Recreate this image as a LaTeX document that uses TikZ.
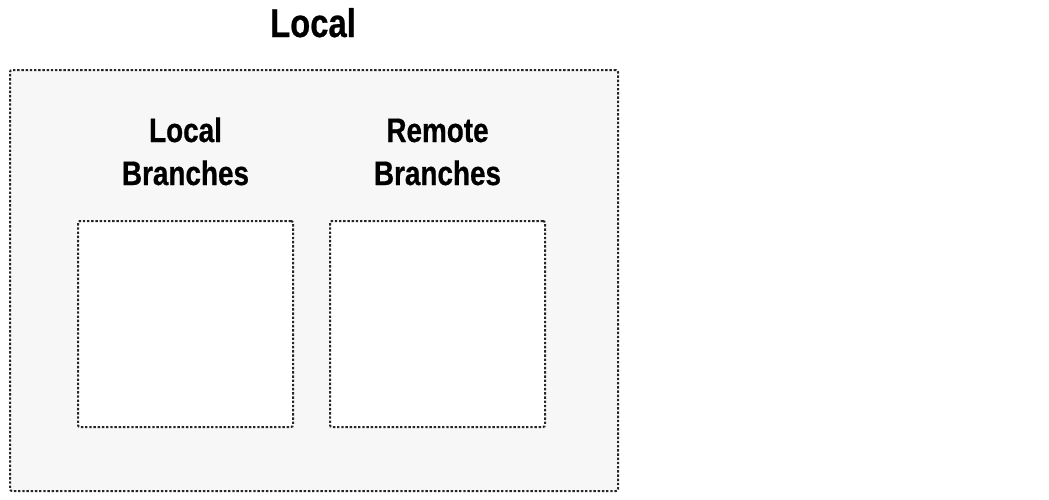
\documentclass[tikz,border=0pt]{standalone}
\usepackage{fontspec}
\setmainfont{Liberation Sans}[FakeStretch=0.82, BoldFeatures={FakeBold=0.6}]
\begin{document}
\begin{tikzpicture}[x=1pt, y=-1pt,
    box/.style={draw=black!85, line width=2pt, dash pattern=on 2.4pt off 1.8pt, rounded corners=2pt, inner sep=0pt},
    lbl/.style={font=\bfseries\fontsize{34}{43}\selectfont, align=center, inner sep=0pt}]
      \useasboundingbox (0,0) rectangle (1049,499);
      %
      \node[box, fill=black!3, minimum width=608pt, minimum height=421pt] (local) at (314,280.5) {}; % outer
      %
      \node[box, fill=white, minimum width=215pt, minimum height=206pt] (lbox) at (185.5,324) {};  % local branches
      \node[box, fill=white, minimum width=215pt, minimum height=206pt] (rbox) at (437.5,324) {};  % remote branches
      %
      \node[lbl, font=\bfseries\fontsize{40}{48}\selectfont, anchor=base] (title) at (313,37) {Local};
      %
      \node[lbl, anchor=base] (ltext) at (185.5,185) {Local\\Branches};
      \node[lbl, anchor=base] (rtext) at (437.5,185) {Remote\\Branches};
      %
    \end{tikzpicture}
\end{document}
